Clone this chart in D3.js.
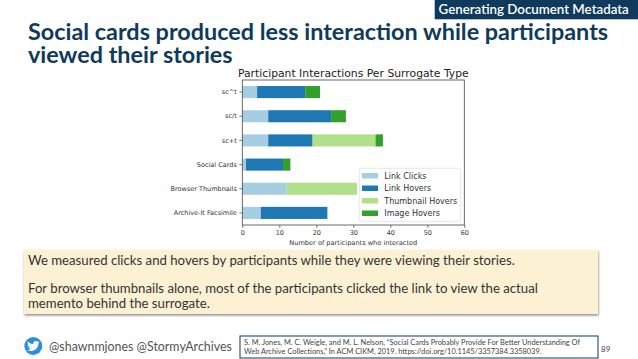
<!DOCTYPE html>
<html>
<head>
<meta charset="utf-8">
<script src="https://cdn.jsdelivr.net/npm/d3@7"></script>
<style>
  html, body { margin: 0; padding: 0; background: #fff; }
  svg { display: block; }
</style>
</head>
<body>
<svg id="slide" width="638" height="359"></svg>
<script>
const categories = ['sc^t', 'sc/t', 'sc+t', 'Social Cards', 'Browser Thumbnails', 'Archive-It Facsimile']
const seriesNames = ['Link Clicks', 'Link Hovers', 'Thumbnail Hovers', 'Image Hovers']
const seriesColors = ['#a6cee3', '#1f78b4', '#b2df8a', '#33a02c']
const linkClicks = [4, 7, 7, 1, 12, 5]
const linkHovers = [13, 17, 12, 10, 0, 18]
const thumbnailHovers = [0, 0, 17, 0, 19, 0]
const imageHovers = [4, 4, 2, 2, 0, 0]
const xTicks = [0, 10, 20, 30, 40, 50, 60]

const titleLines = ['Social cards produced less interaction while participants', 'viewed their stories']
const noteLines = ['We measured clicks and hovers by participants while they were viewing their stories.', '',
  'For browser thumbnails alone, most of the participants clicked the link to view the actual',
  'memento behind the surrogate.']
const citeLines = ['S. M. Jones, M. C. Weigle, and M. L. Nelson, \u201cSocial Cards Probably Provide For Better Understanding Of',
  'Web Archive Collections,\u201d In ACM CIKM, 2019. https://doi.org/10.1145/3357384.3358039.']

const navy = '#0f3a5c'
const slideFont = 'Lato, "Open Sans", sans-serif'
const chartFont = '"DejaVu Sans", sans-serif'
const birdPath = 'M23.953 4.57a10 10 0 01-2.825.775 4.958 4.958 0 002.163-2.723c-.951.555-2.005.959-3.127 1.184a4.92 4.92 0 00-8.384 4.482C7.69 8.095 4.067 6.13 1.64 3.162a4.822 4.822 0 00-.666 2.475c0 1.71.87 3.213 2.188 4.096a4.904 4.904 0 01-2.228-.616v.06a4.923 4.923 0 003.946 4.827 4.996 4.996 0 01-2.212.085 4.936 4.936 0 004.604 3.417 9.867 9.867 0 01-6.102 2.105c-.39 0-.779-.023-1.17-.067a13.995 13.995 0 007.557 2.209c9.053 0 13.998-7.496 13.998-13.985 0-.21 0-.42-.015-.63A9.935 9.935 0 0024 4.59z'
const svg = d3.select('#slide')

// slide furniture
svg.append('rect').attr('x', 434.7).attr('y', 0).attr('width', 203.3).attr('height', 19.3).attr('fill', navy)
svg.append('text').text('Generating Document Metadata')
   .attr('x', 533.7).attr('y', 14).attr('text-anchor', 'middle')
   .style('font', '600 13.3px ' + slideFont).style('fill', '#fff')

svg.selectAll('.title').data(titleLines).enter().append('text')
   .attr('class', 'title').text(d => d)
   .attr('x', 28).attr('y', (d, i) => 40 + i * 22.7)
   .style('font', '700 23.4px ' + slideFont).style('fill', navy)

// chart
const margin = {top: 80, left: 242.3, right: 173.7, bottom: 134}
const width = 638 - margin.left - margin.right
const height = 359 - margin.top - margin.bottom
const chart = svg.append('g').attr('transform', `translate(${margin.left}, ${margin.top})`)

const xScale = d3.scaleLinear().domain([0, 60]).range([0, width])
const yScale = d3.scaleBand().domain(categories).range([0, height]).paddingInner(0.5).paddingOuter(0.25)

const rows = categories.map((c, i) => ({
  category: c,
  'Link Clicks': linkClicks[i],
  'Link Hovers': linkHovers[i],
  'Thumbnail Hovers': thumbnailHovers[i],
  'Image Hovers': imageHovers[i]
}))
const stacked = d3.stack().keys(seriesNames)(rows)

chart.selectAll('.series').data(stacked).enter().append('g')
   .attr('class', 'series')
   .attr('fill', (d, i) => seriesColors[i])
   .selectAll('rect').data(d => d).enter().append('rect')
   .attr('x', d => xScale(d[0]))
   .attr('y', d => yScale(d.data.category))
   .attr('width', d => xScale(d[1]) - xScale(d[0]))
   .attr('height', yScale.bandwidth())

chart.append('rect').attr('width', width).attr('height', height)
   .attr('fill', 'none').attr('stroke', '#444').attr('stroke-width', 0.8)

const yAxis = chart.append('g').call(d3.axisLeft(yScale).tickSize(3).tickPadding(2.5))
const xAxis = chart.append('g').attr('transform', `translate(0,${height})`)
   .call(d3.axisBottom(xScale).tickValues(xTicks).tickSize(3).tickPadding(2))
for (const axis of [xAxis, yAxis]) {
  axis.select('.domain').remove()
  axis.selectAll('line').attr('stroke', '#444').attr('stroke-width', 0.7)
  axis.selectAll('text').style('font', '6.5px ' + chartFont).style('fill', '#333')
}

chart.append('text').text('Participant Interactions Per Surrogate Type')
   .attr('x', width / 2).attr('y', -3).attr('text-anchor', 'middle')
   .style('font', '10.8px ' + chartFont).style('fill', '#222')
chart.append('text').text('Number of participants who interacted')
   .attr('x', width / 2).attr('y', height + 20).attr('text-anchor', 'middle')
   .style('font', '6.6px ' + chartFont).style('fill', '#333')

// legend sits over the bars like matplotlib's
const legend = svg.append('g').attr('transform', 'translate(359.3, 168.3)')
legend.append('rect').attr('width', 101.4).attr('height', 53)
   .attr('rx', 1.5).attr('fill', '#fff').attr('fill-opacity', 0.85)
   .attr('stroke', '#ddd').attr('stroke-width', 0.7)
const legendRows = legend.selectAll('.key').data(seriesNames).enter().append('g')
   .attr('class', 'key')
   .attr('transform', (d, i) => `translate(2.7, ${4.7 + i * 12.5})`)
legendRows.append('rect').attr('width', 16).attr('height', 5.5).attr('fill', (d, i) => seriesColors[i])
legendRows.append('text').text(d => d).attr('x', 22.3).attr('y', 5.8)
   .style('font', '8px ' + chartFont).style('fill', '#333')

// note box
svg.append('defs').append('filter').attr('id', 'shadow')
   .append('feDropShadow').attr('dx', 0.5).attr('dy', 1.5).attr('stdDeviation', 0.8)
   .attr('flood-color', '#000').attr('flood-opacity', 0.45)
svg.append('rect').attr('x', 24).attr('y', 250).attr('width', 574).attr('height', 64)
   .attr('fill', '#fdf1d3').attr('filter', 'url(#shadow)')
svg.selectAll('.note').data(noteLines).enter().append('text')
   .attr('class', 'note').text(d => d)
   .attr('x', 28).attr('y', (d, i) => 265 + i * 14.2)
   .style('font', '13.2px ' + slideFont).style('fill', '#333')

// footer
svg.append('circle').attr('cx', 33.3).attr('cy', 346).attr('r', 9).attr('fill', '#2a8fe0')
svg.append('path').attr('d', birdPath).attr('fill', '#fff')
   .attr('transform', 'translate(27.1, 339.8) scale(0.52)')
svg.append('text').text('@shawnmjones @StormyArchives')
   .attr('x', 49).attr('y', 350.7).style('font', '12.4px ' + slideFont).style('fill', '#555')
svg.append('rect').attr('x', 240).attr('y', 336).attr('width', 358).attr('height', 22)
   .attr('fill', '#fff').attr('stroke', navy).attr('stroke-width', 1)
svg.selectAll('.cite').data(citeLines).enter().append('text')
   .attr('class', 'cite').text(d => d)
   .attr('x', 244).attr('y', (d, i) => 344.5 + i * 9)
   .style('font', '7.4px ' + slideFont).style('fill', '#444')
svg.append('text').text('89').attr('x', 601).attr('y', 351.5)
   .style('font', '8px ' + slideFont).style('fill', '#444')
</script>
</body>
</html>
